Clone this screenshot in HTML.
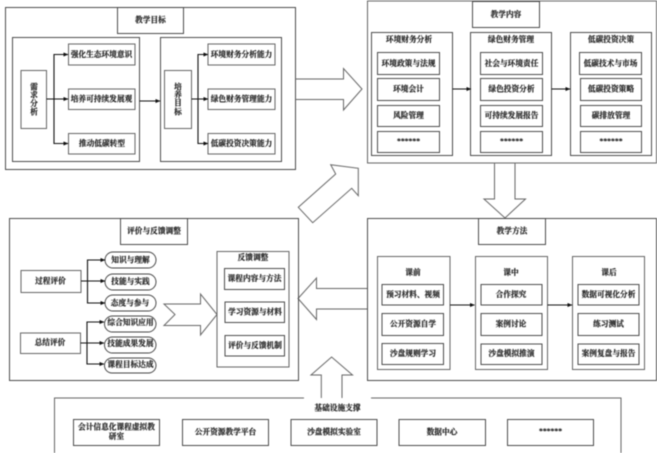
<!DOCTYPE html>
<html><head><meta charset="utf-8">
<style>
html,body{margin:0;padding:0;background:#fff}
svg{display:block;filter:blur(.4px)}
text{font-family:"Liberation Serif","Noto Serif CJK SC",serif;font-size:7.7px;font-weight:700;fill:#222;stroke:#222;stroke-width:.18;text-anchor:middle;dominant-baseline:central}
.b{fill:none;stroke:#444;stroke-width:.95}
.g{fill:none;stroke:#666;stroke-width:1}
.k{fill:none;stroke:#111;stroke-width:1.1}
</style></head><body>
<svg width="657" height="453" viewBox="0 0 657 453" xmlns="http://www.w3.org/2000/svg">
<defs><marker id="a" markerWidth="5" markerHeight="4" refX="4.5" refY="2" orient="auto" markerUnits="userSpaceOnUse"><path d="M0 0L5 2L0 4Z" fill="#111"/></marker></defs>

<!-- 教学目标 -->
<rect class="b" x="5.5" y="7.5" width="290" height="162"/>
<rect class="b" x="117.5" y="7.5" width="66" height="26"/>
<text x="150.5" y="20">教学目标</text>
<rect class="b" x="12.5" y="37.5" width="127" height="124"/>
<rect class="b" x="160.5" y="37.5" width="121" height="124"/>
<rect class="g" x="21" y="70.5" width="25.5" height="58"/>
<text x="34" y="87">需</text><text x="34" y="95">求</text><text x="34" y="103.5">分</text><text x="34" y="112">析</text>
<rect class="g" x="68.5" y="44" width="66.5" height="21"/><text x="101.5" y="54.5">强化生态环境意识</text>
<rect class="g" x="68.5" y="89" width="66.5" height="20.5"/><text x="101.5" y="99">培养可持续发展观</text>
<rect class="g" x="68.5" y="133.5" width="66.5" height="20.5"/><text x="102" y="143.5">推动低碳转型</text>
<rect class="g" x="164.5" y="70.5" width="27" height="58"/>
<text x="178" y="87">培</text><text x="178" y="95">养</text><text x="178" y="103">目</text><text x="178" y="112">标</text>
<rect class="g" x="208" y="44" width="67" height="21"/><text x="241.5" y="54.5">环境财务分析能力</text>
<rect class="g" x="208" y="89" width="67" height="20.5"/><text x="241.5" y="99">绿色财务管理能力</text>
<rect class="g" x="208" y="133.5" width="67" height="20.5"/><text x="241.5" y="143.5">低碳投资决策能力</text>
<path class="k" d="M46.5 99H68" marker-end="url(#a)"/>
<path class="k" d="M54 99V54.5H68" marker-end="url(#a)"/>
<path class="k" d="M54 99V143.5H68" marker-end="url(#a)"/>
<path class="k" d="M139.5 101H160" marker-end="url(#a)"/>
<path class="k" d="M191.5 99H208" marker-end="url(#a)"/>
<path class="k" d="M198 99V54.5H208" marker-end="url(#a)"/>
<path class="k" d="M198 99V143.5H208" marker-end="url(#a)"/>

<!-- big arrows -->
<path class="g" d="M295.5 79H343.5V68.5L362 89L343.5 110V99.5H295.5"/>
<path class="g" d="M298.3 207.3L335.7 174L330.7 164.7L358.3 168.3V195.7L351.7 188.3L312.7 222.7Z"/>
<path class="g" d="M494.5 163V199H484L505 218L525.5 199H515V163"/>
<path class="g" d="M367 288.5H316.5V278L298 298.5L316.5 319.5V309H367"/>
<path class="g" d="M321.3 398V375H311L331.6 357L352.5 375H342V398"/>

<!-- 教学内容 -->
<rect class="g" x="367.5" y="1" width="289" height="162"/>
<rect class="b" x="472.5" y="1.5" width="67" height="26"/>
<text x="506" y="14.5">教学内容</text>
<rect class="b" x="371.5" y="32.5" width="81" height="123"/>
<rect class="b" x="470.5" y="32.5" width="81" height="123"/>
<rect class="b" x="570.5" y="32.5" width="81" height="123"/>
<text x="409" y="39.5">环境财务分析</text>
<text x="511" y="39.5">绿色财务管理</text>
<text x="611" y="39.5">低碳投资决策</text>
<rect class="b" x="377.5" y="52.5" width="62" height="22"/><text x="408.5" y="63.5">环境政策与法规</text>
<rect class="b" x="377.5" y="78.5" width="62" height="22"/><text x="408.5" y="89">环境会计</text>
<rect class="b" x="377.5" y="105.5" width="62" height="21"/><text x="408.5" y="115.5">风险管理</text>
<rect class="b" x="377.5" y="131.5" width="62" height="21"/><text x="408.5" y="141">******</text>
<rect class="b" x="480.5" y="52.5" width="62" height="22"/><text x="511.5" y="63.5">社会与环境责任</text>
<rect class="b" x="480.5" y="78.5" width="62" height="22"/><text x="511.5" y="89">绿色投资分析</text>
<rect class="b" x="480.5" y="105.5" width="62" height="21"/><text x="511.5" y="115.5">可持续发展报告</text>
<rect class="b" x="480.5" y="131.5" width="62" height="21"/><text x="511.5" y="141">******</text>
<rect class="b" x="579.5" y="52.5" width="62" height="22"/><text x="610.5" y="63.5">低碳技术与市场</text>
<rect class="b" x="580.5" y="78.5" width="61" height="22"/><text x="611" y="89">低碳投资策略</text>
<rect class="b" x="580.5" y="105.5" width="61" height="21"/><text x="611" y="115.5">碳排放管理</text>
<rect class="b" x="580.5" y="131.5" width="61" height="21"/><text x="611" y="141">******</text>
<path class="k" d="M452.5 89H471" marker-end="url(#a)"/>
<path class="k" d="M551.5 89H570" marker-end="url(#a)"/>

<!-- 评价与反馈调整 -->
<rect class="b" x="9.5" y="218.5" width="289" height="162"/>
<rect class="b" x="120.5" y="218.5" width="67" height="26"/>
<text x="154" y="231">评价与反馈调整</text>
<rect class="g" x="21" y="270.5" width="60" height="22"/><text x="50.5" y="281">过程评价</text>
<rect class="g" x="20.5" y="333" width="60" height="20.5"/><text x="50" y="342.5">总结评价</text>
<rect class="b" x="105" y="252" width="51" height="16" rx="8"/><text x="130.5" y="260">知识与理解</text>
<rect class="b" x="105" y="274" width="51" height="16" rx="8"/><text x="130.5" y="281.5">技能与实践</text>
<rect class="b" x="105" y="295" width="51" height="16" rx="8"/><text x="130" y="303">态度与参与</text>
<rect class="b" x="104.5" y="316" width="51.5" height="16" rx="8"/><text x="130.5" y="322.5">综合知识应用</text>
<rect class="b" x="104.5" y="337" width="51.5" height="16" rx="8"/><text x="130.5" y="343.5">技能成果发展</text>
<rect class="b" x="104.5" y="358" width="51.5" height="15" rx="7.5"/><text x="130.5" y="364.5">课程目标达成</text>
<path class="k" d="M81 281H105" marker-end="url(#a)"/>
<path class="k" d="M87.5 281V260H105" marker-end="url(#a)"/>
<path class="k" d="M87.5 281V303H105" marker-end="url(#a)"/>
<path class="k" d="M80.5 343H104" marker-end="url(#a)"/>
<path class="k" d="M87 343V322H104" marker-end="url(#a)"/>
<path class="k" d="M87 343V364H104" marker-end="url(#a)"/>
<path class="g" d="M164 304H200.5V294L217 314.5L200.5 335V325.5H164L175 314.5Z"/>
<rect class="g" x="217" y="251.5" width="72" height="115.5"/>
<text x="253" y="257.5">反馈调整</text>
<rect class="b" x="224.5" y="268.5" width="60" height="21"/><text x="254.5" y="278.5">课程内容与方法</text>
<rect class="b" x="225" y="302" width="59.5" height="20.5"/><text x="255" y="312">学习资源与材料</text>
<rect class="b" x="225" y="335.5" width="59.5" height="20.5"/><text x="255" y="345.5">评价与反馈机制</text>

<!-- 教学方法 -->
<rect class="b" x="367.5" y="218.5" width="289" height="162"/>
<rect class="b" x="478.5" y="218.5" width="67" height="26"/>
<text x="512" y="231">教学方法</text>
<rect class="g" x="377.5" y="256.5" width="72.5" height="113"/>
<rect class="g" x="475.5" y="256.5" width="72" height="113"/>
<rect class="g" x="572.5" y="256.5" width="72" height="113"/>
<text x="413" y="272.5">课前</text><text x="511" y="272.5">课中</text><text x="609" y="272.5">课后</text>
<rect class="b" x="382" y="284.5" width="61.5" height="20.5"/><text x="413" y="294.5">预习材料、视频</text>
<rect class="b" x="382" y="313.5" width="61.5" height="22"/><text x="413" y="324">公开资源自学</text>
<rect class="b" x="382" y="343.5" width="61.5" height="21"/><text x="413" y="353.5">沙盘规则学习</text>
<rect class="b" x="481" y="284.5" width="61" height="20.5"/><text x="511" y="294.5">合作探究</text>
<rect class="b" x="481" y="313.5" width="61" height="22"/><text x="511" y="324">案例讨论</text>
<rect class="b" x="481" y="344" width="61" height="20.5"/><text x="511.5" y="353.5">沙盘模拟推演</text>
<rect class="b" x="578" y="284.5" width="61" height="20.5"/><text x="608.5" y="294.5">数据可视化分析</text>
<rect class="b" x="578" y="313.5" width="61" height="22"/><text x="608.5" y="324">练习测试</text>
<rect class="b" x="578" y="344" width="61" height="20.5"/><text x="608.5" y="353.5">案例复盘与报告</text>
<path class="k" d="M450 305H474.5" marker-end="url(#a)"/>
<path class="k" d="M547.5 305H572" marker-end="url(#a)"/>

<!-- 基础设施支撑 -->
<path class="g" d="M304 398H54.5V454M371 398H621V454"/>
<text x="337.5" y="408">基础设施支撑</text>
<rect class="b" x="73.5" y="419.5" width="86" height="26"/>
<text x="116.5" y="427">会计信息化课程虚拟教</text><text x="116.5" y="436.5">研室</text>
<rect class="b" x="182.5" y="419.5" width="86" height="26"/><text x="225.5" y="432">公开资源教学平台</text>
<rect class="b" x="291" y="419.5" width="86" height="26"/><text x="334" y="432">沙盘模拟实验室</text>
<rect class="b" x="399" y="419.5" width="86.5" height="26"/><text x="442" y="432">数据中心</text>
<rect class="b" x="507.5" y="419.5" width="86" height="26"/><text x="550.5" y="431">******</text>
</svg>
</body></html>
